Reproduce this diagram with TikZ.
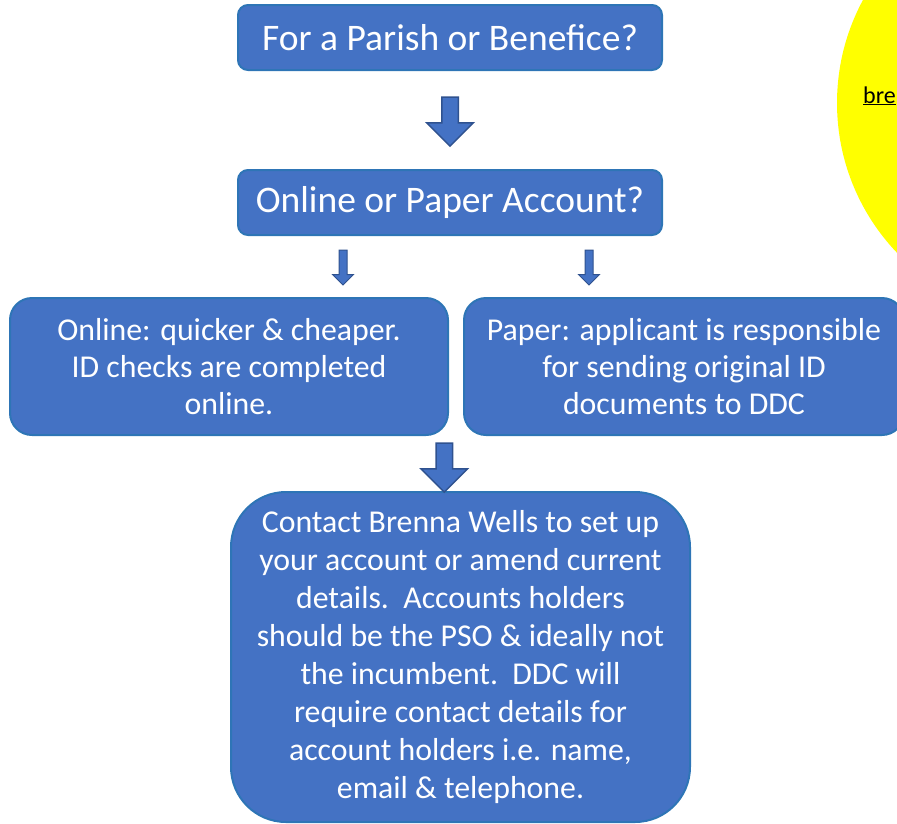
\documentclass[tikz,border=0pt]{standalone}
\usepackage{fontspec}
\setmainfont{Carlito}
\usetikzlibrary{calc,shapes.arrows}

\definecolor{boxblue}{HTML}{4472C4}
\definecolor{boxedge}{HTML}{2E75B6}
\definecolor{arrowedge}{HTML}{2F528F}
\definecolor{notecircle}{HTML}{FFFF00}

\tikzset{
  flowbox/.style={draw=boxedge, fill=boxblue, line width=2pt, text=white,
    align=center, inner sep=0pt},
  bigdown/.style={single arrow, draw=arrowedge, fill=boxblue, line width=1.5pt,
    rotate=-90, inner xsep=0pt, inner ysep=7.5pt, minimum height=49pt,
    single arrow head extend=15pt, single arrow tip angle=90},
  smalldown/.style={single arrow, draw=arrowedge, fill=boxblue, line width=1pt,
    rotate=-90, inner xsep=0pt, inner ysep=3.5pt, minimum height=35pt,
    single arrow head extend=6.5pt, single arrow tip angle=90},
}

\begin{document}
\begin{tikzpicture}[x=1pt,y=-1pt]

\useasboundingbox (0,0) rectangle (897,823);
\clip (0,0) rectangle (897,823);

% Note circle (cut off at the right)
\fill[notecircle] (1054,103) circle (217pt);
\node[anchor=base west, font=\fontsize{24}{28}\selectfont, inner sep=0pt] (email)
  at (863,103) {\underline{bre}};

% Boxes
\node[flowbox, rounded corners=10pt, minimum width=424pt, minimum height=65pt,
  font=\fontsize{37.5}{42}\selectfont] (parish) at (450,37.5) {For a Parish or Benefice?};
\node[flowbox, rounded corners=10pt, minimum width=424pt, minimum height=65pt,
  font=\fontsize{37.5}{42}\selectfont] (account) at (450,202.5) {Online or Paper Account?};

\node[flowbox, rounded corners=22pt, minimum width=438pt, minimum height=137pt,
  font=\fontsize{31.8}{37}\selectfont] (online) at (229,366.5)
  {Online: quicker \& cheaper.\\ID checks are completed\\online.};
\node[flowbox, rounded corners=22pt, minimum width=440pt, minimum height=137pt,
  font=\fontsize{31.8}{37}\selectfont] (paper) at (684,366.5)
  {Paper: applicant is responsible\\for sending original ID\\documents to DDC};

\node[flowbox, rounded corners=55pt, minimum width=459pt, minimum height=330pt,
  font=\fontsize{31.8}{38}\selectfont] (contact) at (460.5,657)
  {Contact Brenna Wells to set up\\your account or amend current\\
   details.\ \ Accounts holders\\should be the PSO \& ideally not\\
   the incumbent.\ \ DDC will\\require contact details for\\
   account holders i.e. name,\\email \& telephone.};

% Block arrows
\node[bigdown] (down1) at ($(parish.south)!0.475!(account.north)$) {};
\node[smalldown] (downleft) at ($(account.south)+(-107,29.5)$) {};
\node[smalldown] (downright) at ($(account.south)+(139,29.5)$) {};
\node[bigdown] (down2) at ($(online.south east)!0.5!(contact.north)+(-10.5,0)$) {};

\end{tikzpicture}
\end{document}
